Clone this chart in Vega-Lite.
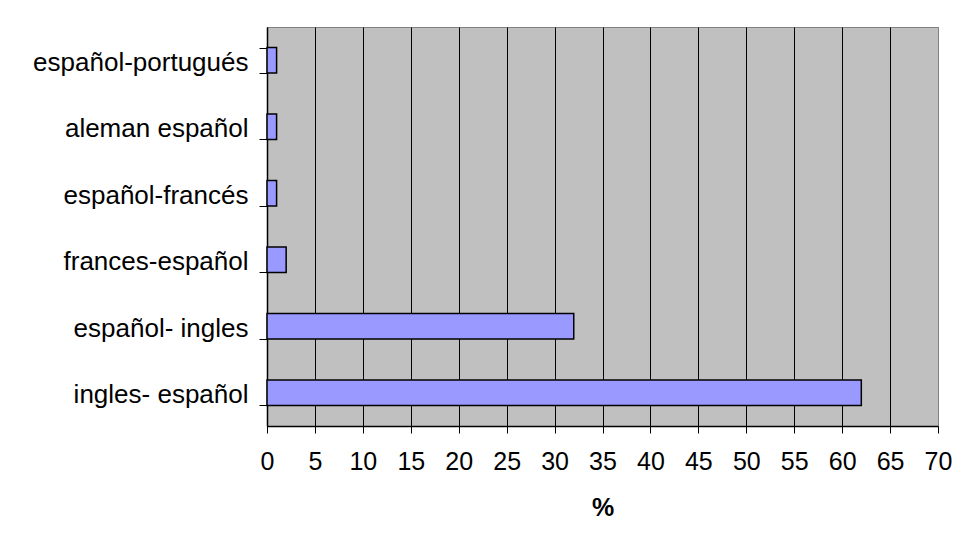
{
  "$schema": "https://vega.github.io/schema/vega-lite/v6.json",
  "autosize": {"type": "none"},
  "width": 671,
  "height": 399,
  "padding": {"left": 267, "top": 27, "right": 26, "bottom": 120},
  "background": "white",
  "config": {
    "view": {"fill": "#C0C0C0", "stroke": "#808080", "strokeWidth": 1},
    "font": "Liberation Sans"
  },
  "data": {
    "values": [
      {"par": "español-portugués", "pct": 1},
      {"par": "aleman español", "pct": 1},
      {"par": "español-francés", "pct": 1},
      {"par": "frances-español", "pct": 2},
      {"par": "español- ingles", "pct": 32},
      {"par": "ingles- español", "pct": 62}
    ]
  },
  "mark": {"type": "bar", "fill": "#9999FF", "stroke": "black", "strokeWidth": 1.5},
  "encoding": {
    "y": {
      "field": "par",
      "type": "nominal",
      "sort": null,
      "scale": {"paddingInner": 0.62, "paddingOuter": 0.31},
      "axis": {
        "title": null,
        "tickBand": "extent",
        "grid": false,
        "domainColor": "black",
        "domainWidth": 1.5,
        "tickColor": "black",
        "tickSize": 8,
        "tickWidth": 1,
        "labelFontSize": 26,
        "labelColor": "black",
        "labelPadding": 11,
        "labelOffset": 2,
        "labelFont": "Liberation Sans",
        "labelLimit": 400
      }
    },
    "x": {
      "field": "pct",
      "type": "quantitative",
      "scale": {"domain": [0, 70], "nice": false},
      "axis": {
        "title": "%",
        "titleFontSize": 25,
        "titleFontWeight": "bold",
        "titleColor": "black",
        "titleFont": "Liberation Sans",
        "titlePadding": 21,
        "values": [0, 5, 10, 15, 20, 25, 30, 35, 40, 45, 50, 55, 60, 65, 70],
        "grid": true,
        "gridColor": {"condition": {"test": "datum.value == 70", "value": "#808080"}, "value": "black"},
        "gridWidth": 1,
        "gridOpacity": 1,
        "domainColor": "black",
        "domainWidth": 1.5,
        "tickColor": "black",
        "tickSize": 7,
        "labelFontSize": 25,
        "labelColor": "black",
        "labelPadding": 16,
        "labelFont": "Liberation Sans",
        "labelFlush": false
      }
    }
  }
}
